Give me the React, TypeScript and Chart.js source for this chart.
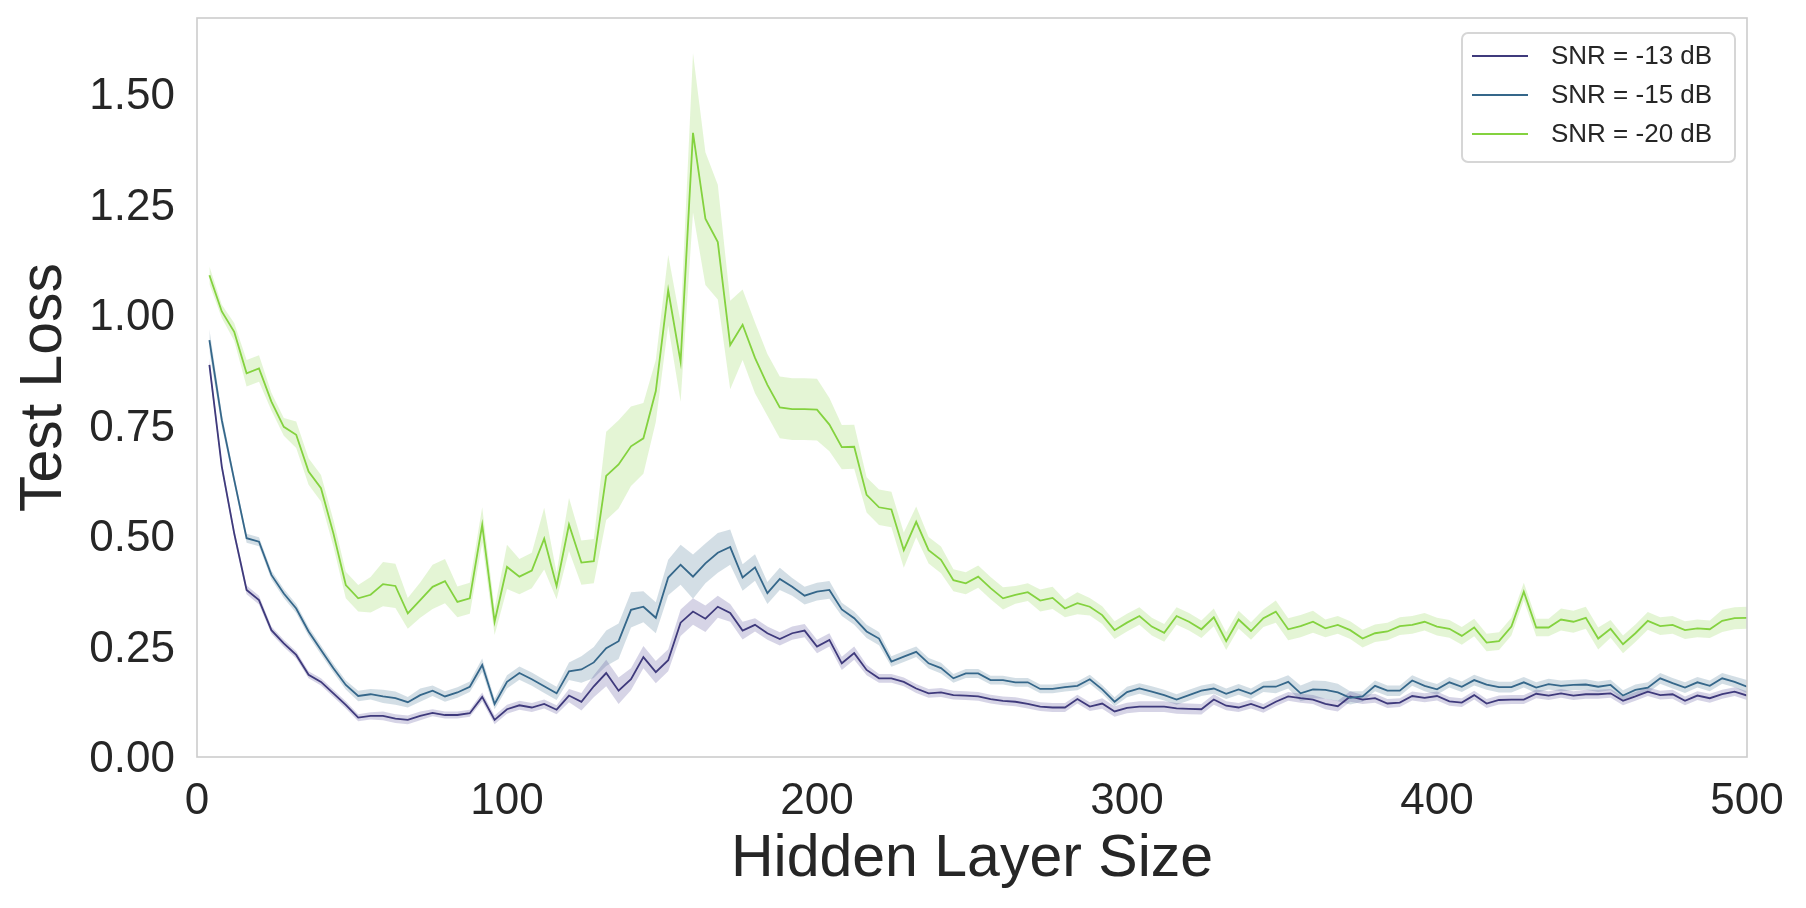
import { useEffect, useRef } from 'react'
import { Chart, registerables } from 'chart.js'
Chart.register(...registerables)

const FONT = '"Liberation Sans", Arial, sans-serif'
const INK = '#262626'

// hidden layer sizes
const SIZES = [
  4, 8, 12, 16, 20, 24, 28, 32, 36, 40, 44, 48, 52, 56, 60, 64, 68, 72, 76, 80, 84, 88, 92, 96, 100,
  104, 108, 112, 116, 120, 124, 128, 132, 136, 140, 144, 148, 152, 156, 160, 164, 168, 172, 176, 180, 184, 188, 192, 196, 200,
  204, 208, 212, 216, 220, 224, 228, 232, 236, 240, 244, 248, 252, 256, 260, 264, 268, 272, 276, 280, 284, 288, 292, 296, 300,
  304, 308, 312, 316, 320, 324, 328, 332, 336, 340, 344, 348, 352, 356, 360, 364, 368, 372, 376, 380, 384, 388, 392, 396, 400,
  404, 408, 412, 416, 420, 424, 428, 432, 436, 440, 444, 448, 452, 456, 460, 464, 468, 472, 476, 480, 484, 488, 492, 496, 500,
]

// mean test loss, SNR = -13 dB
const LOSS_13 = [
  0.887, 0.657, 0.506, 0.378, 0.355, 0.287, 0.257, 0.231, 0.186, 0.17, 0.144, 0.118, 0.089, 0.093, 0.093, 0.087, 0.084, 0.093, 0.1, 0.095, 0.095, 0.099, 0.136, 0.084, 0.108,
  0.117, 0.112, 0.12, 0.107, 0.139, 0.125, 0.16, 0.19, 0.15, 0.176, 0.226, 0.192, 0.219, 0.304, 0.329, 0.313, 0.34, 0.326, 0.286, 0.299, 0.28, 0.267, 0.28, 0.286, 0.25,
  0.265, 0.212, 0.235, 0.197, 0.178, 0.178, 0.17, 0.155, 0.144, 0.146, 0.14, 0.139, 0.137, 0.131, 0.127, 0.125, 0.12, 0.114, 0.112, 0.112, 0.131, 0.114, 0.121, 0.103, 0.111,
  0.114, 0.114, 0.114, 0.11, 0.109, 0.108, 0.13, 0.116, 0.112, 0.12, 0.11, 0.125, 0.137, 0.133, 0.13, 0.12, 0.115, 0.137, 0.13, 0.133, 0.121, 0.123, 0.138, 0.134, 0.138,
  0.126, 0.123, 0.14, 0.121, 0.129, 0.13, 0.13, 0.143, 0.139, 0.144, 0.139, 0.142, 0.142, 0.144, 0.127, 0.137, 0.148, 0.14, 0.142, 0.127, 0.139, 0.133, 0.142, 0.148, 0.139,
]
// mean test loss, SNR = -15 dB
const LOSS_15 = [
  0.943, 0.762, 0.627, 0.495, 0.487, 0.412, 0.37, 0.336, 0.284, 0.242, 0.201, 0.163, 0.138, 0.142, 0.137, 0.133, 0.124, 0.14, 0.15, 0.137, 0.146, 0.159, 0.208, 0.12, 0.17,
  0.19, 0.176, 0.16, 0.144, 0.194, 0.198, 0.214, 0.246, 0.262, 0.333, 0.34, 0.315, 0.406, 0.435, 0.408, 0.438, 0.462, 0.475, 0.406, 0.429, 0.371, 0.403, 0.385, 0.365, 0.374,
  0.378, 0.334, 0.314, 0.284, 0.268, 0.216, 0.227, 0.238, 0.212, 0.201, 0.178, 0.189, 0.189, 0.174, 0.174, 0.169, 0.169, 0.154, 0.154, 0.158, 0.161, 0.176, 0.153, 0.125, 0.147,
  0.155, 0.148, 0.14, 0.13, 0.14, 0.15, 0.155, 0.143, 0.153, 0.143, 0.159, 0.159, 0.17, 0.144, 0.153, 0.152, 0.146, 0.134, 0.137, 0.161, 0.15, 0.15, 0.173, 0.161, 0.153,
  0.169, 0.159, 0.174, 0.164, 0.158, 0.158, 0.169, 0.157, 0.165, 0.161, 0.163, 0.164, 0.159, 0.163, 0.139, 0.152, 0.157, 0.178, 0.167, 0.157, 0.169, 0.161, 0.178, 0.17, 0.159,
]
// mean test loss, SNR = -20 dB
const LOSS_20 = [
  1.09, 1.008, 0.962, 0.868, 0.879, 0.804, 0.747, 0.729, 0.646, 0.608, 0.506, 0.389, 0.359, 0.367, 0.391, 0.387, 0.325, 0.355, 0.385, 0.398, 0.351, 0.359, 0.525, 0.306, 0.43,
  0.408, 0.422, 0.494, 0.387, 0.526, 0.44, 0.443, 0.636, 0.662, 0.703, 0.721, 0.828, 1.056, 0.894, 1.412, 1.218, 1.165, 0.932, 0.978, 0.903, 0.842, 0.791, 0.787, 0.787, 0.786,
  0.752, 0.701, 0.702, 0.593, 0.565, 0.56, 0.468, 0.532, 0.468, 0.446, 0.4, 0.393, 0.408, 0.382, 0.359, 0.367, 0.373, 0.354, 0.36, 0.336, 0.348, 0.34, 0.321, 0.287, 0.304,
  0.319, 0.295, 0.281, 0.319, 0.306, 0.289, 0.316, 0.262, 0.311, 0.285, 0.314, 0.329, 0.289, 0.296, 0.306, 0.291, 0.299, 0.287, 0.268, 0.28, 0.284, 0.296, 0.299, 0.306, 0.295,
  0.29, 0.274, 0.293, 0.259, 0.262, 0.295, 0.374, 0.293, 0.293, 0.311, 0.306, 0.315, 0.268, 0.29, 0.255, 0.28, 0.308, 0.296, 0.299, 0.287, 0.291, 0.289, 0.308, 0.314, 0.315,
]

// half width of the confidence band
const CI_13 = [
  0.015, 0.01, 0.01, 0.01, 0.01, 0.008, 0.008, 0.008, 0.008, 0.008, 0.008, 0.008, 0.008, 0.008, 0.01, 0.01, 0.01, 0.01, 0.008, 0.008, 0.008, 0.008, 0.01, 0.01, 0.01,
  0.01, 0.01, 0.01, 0.01, 0.015, 0.02, 0.025, 0.03, 0.03, 0.025, 0.025, 0.025, 0.025, 0.03, 0.03, 0.03, 0.025, 0.02, 0.02, 0.015, 0.015, 0.015, 0.015, 0.015, 0.015,
  0.015, 0.015, 0.015, 0.012, 0.01, 0.01, 0.01, 0.01, 0.01, 0.01, 0.01, 0.01, 0.01, 0.01, 0.01, 0.01, 0.01, 0.01, 0.01, 0.01, 0.01, 0.01, 0.012, 0.012, 0.012,
  0.012, 0.012, 0.012, 0.012, 0.012, 0.012, 0.012, 0.01, 0.01, 0.01, 0.01, 0.01, 0.01, 0.01, 0.01, 0.012, 0.012, 0.012, 0.01, 0.01, 0.01, 0.01, 0.01, 0.01, 0.01,
  0.01, 0.01, 0.01, 0.01, 0.01, 0.01, 0.01, 0.01, 0.01, 0.01, 0.01, 0.01, 0.01, 0.01, 0.01, 0.01, 0.01, 0.01, 0.01, 0.01, 0.01, 0.01, 0.01, 0.01, 0.01,
]
const CI_15 = [
  0.025, 0.015, 0.01, 0.01, 0.01, 0.01, 0.01, 0.01, 0.01, 0.01, 0.01, 0.01, 0.012, 0.012, 0.015, 0.015, 0.012, 0.015, 0.012, 0.012, 0.012, 0.012, 0.015, 0.012, 0.015,
  0.015, 0.015, 0.015, 0.015, 0.02, 0.03, 0.035, 0.04, 0.04, 0.04, 0.035, 0.035, 0.04, 0.045, 0.05, 0.045, 0.045, 0.04, 0.03, 0.03, 0.025, 0.025, 0.02, 0.02, 0.02,
  0.02, 0.015, 0.015, 0.015, 0.015, 0.012, 0.012, 0.012, 0.012, 0.012, 0.01, 0.01, 0.01, 0.01, 0.01, 0.01, 0.01, 0.01, 0.01, 0.01, 0.01, 0.01, 0.01, 0.01, 0.012,
  0.012, 0.012, 0.012, 0.012, 0.012, 0.012, 0.012, 0.012, 0.012, 0.012, 0.012, 0.015, 0.015, 0.018, 0.02, 0.02, 0.02, 0.015, 0.012, 0.012, 0.012, 0.012, 0.012, 0.012, 0.012,
  0.012, 0.012, 0.012, 0.012, 0.012, 0.012, 0.012, 0.012, 0.012, 0.012, 0.012, 0.012, 0.012, 0.012, 0.012, 0.012, 0.012, 0.012, 0.012, 0.012, 0.012, 0.012, 0.012, 0.012, 0.015,
]
const CI_20 = [
  0.02, 0.015, 0.02, 0.03, 0.03, 0.02, 0.02, 0.03, 0.03, 0.03, 0.03, 0.03, 0.03, 0.04, 0.05, 0.05, 0.035, 0.04, 0.05, 0.05, 0.035, 0.035, 0.04, 0.03, 0.05,
  0.04, 0.04, 0.07, 0.03, 0.06, 0.05, 0.05, 0.1, 0.1, 0.09, 0.08, 0.07, 0.08, 0.09, 0.18, 0.15, 0.13, 0.1, 0.08, 0.08, 0.07, 0.07, 0.07, 0.07, 0.07,
  0.06, 0.05, 0.05, 0.04, 0.04, 0.04, 0.04, 0.035, 0.03, 0.03, 0.025, 0.025, 0.025, 0.025, 0.025, 0.02, 0.02, 0.025, 0.025, 0.02, 0.025, 0.02, 0.02, 0.02, 0.02,
  0.02, 0.02, 0.02, 0.02, 0.02, 0.02, 0.02, 0.02, 0.02, 0.02, 0.02, 0.025, 0.025, 0.025, 0.025, 0.02, 0.02, 0.02, 0.02, 0.02, 0.02, 0.02, 0.02, 0.02, 0.02,
  0.02, 0.02, 0.02, 0.02, 0.02, 0.02, 0.02, 0.02, 0.02, 0.025, 0.025, 0.025, 0.025, 0.02, 0.02, 0.02, 0.02, 0.02, 0.02, 0.02, 0.02, 0.02, 0.025, 0.025, 0.025,
]

const X_TICKS = [0, 100, 200, 300, 400, 500]
const Y_TICKS = [0, 0.25, 0.5, 0.75, 1, 1.25, 1.5]

const SERIES = [
  { label: 'SNR = -13 dB', mean: LOSS_13, ci: CI_13, color: '#3f3a7c', band: 'rgba(70,60,140,0.22)' },
  { label: 'SNR = -15 dB', mean: LOSS_15, ci: CI_15, color: '#35678a', band: 'rgba(53,103,138,0.22)' },
  { label: 'SNR = -20 dB', mean: LOSS_20, ci: CI_20, color: '#84d23f', band: 'rgba(132,210,63,0.22)' },
]

const framePlugin = {
  id: 'frame',
  afterDatasetsDraw(chart: any) {
    const { ctx, chartArea: a } = chart
    ctx.save()
    ctx.strokeStyle = '#cccccc'
    ctx.lineWidth = 1.6
    ctx.strokeRect(a.left, a.top, a.right - a.left, a.bottom - a.top)
    ctx.restore()
  },
}

const legendPlugin = {
  id: 'legendBox',
  afterDraw(chart: any) {
    const { ctx, chartArea: a } = chart
    const w = 273, h = 129
    const x = a.right - 12 - w
    const y = a.top + 15
    ctx.save()
    ctx.fillStyle = 'rgba(255,255,255,0.8)'
    ctx.strokeStyle = '#d6d6d6'
    ctx.lineWidth = 2
    ctx.beginPath()
    ctx.roundRect(x, y, w, h, 6)
    ctx.fill()
    ctx.stroke()
    ctx.font = '26px ' + FONT
    ctx.textBaseline = 'middle'
    SERIES.forEach((s, i) => {
      const ly = y + 23 + i * 39
      ctx.strokeStyle = s.color
      ctx.lineWidth = 2
      ctx.beginPath()
      ctx.moveTo(x + 10, ly)
      ctx.lineTo(x + 66, ly)
      ctx.stroke()
      ctx.fillStyle = INK
      ctx.fillText(s.label, x + 89, ly + 1)
    })
    ctx.restore()
  },
}

export default function App() {
  const canvasRef = useRef<HTMLCanvasElement>(null)
  const chartRef = useRef<Chart | null>(null)

  useEffect(() => {
    if (!canvasRef.current) return
    chartRef.current?.destroy()

    const bands: any[] = []
    SERIES.forEach((s, i) => {
      bands.push({
        data: SIZES.map((x, j) => ({ x, y: s.mean[j] - s.ci[j] })),
        borderWidth: 0, pointRadius: 0, fill: false, order: 10,
      })
      bands.push({
        data: SIZES.map((x, j) => ({ x, y: s.mean[j] + s.ci[j] })),
        borderWidth: 0, pointRadius: 0, backgroundColor: s.band, fill: i * 2, order: 10,
      })
    })
    const lines = SERIES.map((s, i) => ({
      label: s.label,
      data: SIZES.map((x, j) => ({ x, y: s.mean[j] })),
      borderColor: s.color,
      borderWidth: 1.8,
      pointRadius: 0,
      fill: false,
      tension: 0,
      order: 3 - i,
    }))

    chartRef.current = new Chart(canvasRef.current, {
      type: 'line',
      data: { datasets: [...bands, ...lines] },
      plugins: [framePlugin, legendPlugin],
      options: {
        animation: false,
        responsive: false,
        events: [],
        layout: { padding: { top: 18, right: 59, left: 0, bottom: 0 } },
        plugins: { legend: { display: false }, tooltip: { enabled: false } },
        scales: {
          x: {
            type: 'linear', min: 0, max: 500,
            afterBuildTicks: (s: any) => { s.ticks = X_TICKS.map(v => ({ value: v })) },
            afterFit: (s: any) => { s.height = 151; s.paddingLeft = 0; s.paddingRight = 0 },
            grid: { display: false },
            border: { display: false },
            ticks: { color: INK, font: { family: FONT, size: 44 }, padding: 10, maxRotation: 0, autoSkip: false },
            title: { display: true, text: 'Hidden Layer Size', color: INK, font: { family: FONT, size: 59 }, padding: { top: 0, bottom: 13 } },
          },
          y: {
            type: 'linear', min: 0, max: 1.672,
            afterBuildTicks: (s: any) => { s.ticks = Y_TICKS.map(v => ({ value: v })) },
            afterFit: (s: any) => { s.width = 197; s.paddingTop = 0; s.paddingBottom = 0 },
            grid: { display: false },
            border: { display: false },
            ticks: { color: INK, font: { family: FONT, size: 44 }, padding: 14, labelOffset: 3, callback: (v: any) => Number(v).toFixed(2) },
            title: { display: true, text: 'Test Loss', color: INK, font: { family: FONT, size: 59 }, padding: { top: 9, bottom: 0 } },
          },
        },
      },
    })
    return () => { chartRef.current?.destroy(); chartRef.current = null }
  }, [])

  return (
    <div style={{ position: 'fixed', left: 0, top: 0, width: 1806, height: 908, background: '#fff' }}>
      <canvas ref={canvasRef} width={1806} height={908} style={{ width: 1806, height: 908 }} />
    </div>
  )
}
